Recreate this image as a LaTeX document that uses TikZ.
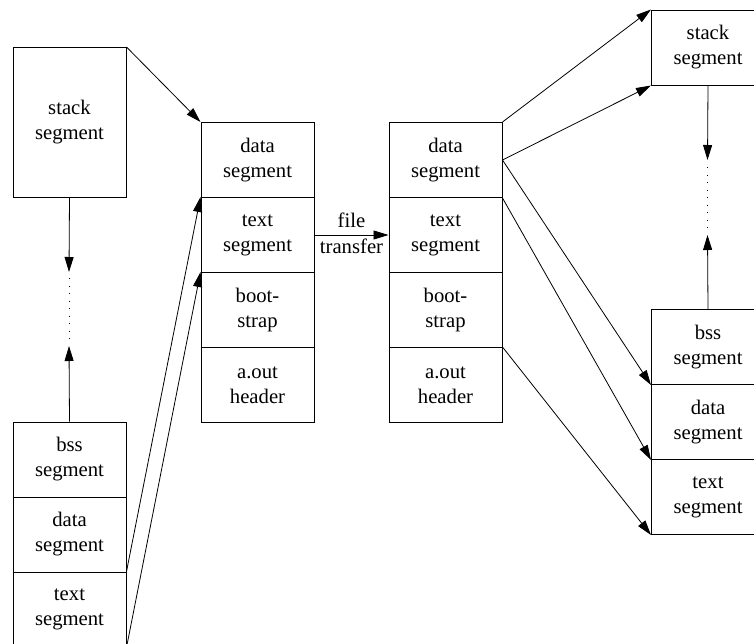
\documentclass[tikz,border=0pt]{standalone}
\usepackage{fontspec}
\setmainfont{Liberation Serif}
\usetikzlibrary{arrows.meta}
\begin{document}
\begin{tikzpicture}[x=1pt,y=-1pt,
  seg/.style={draw,line width=1pt,minimum width=113pt,minimum height=75pt,inner sep=0pt,align=center,font=\fontsize{20.7}{25}\selectfont,anchor=north west},
  lbl/.style={inner sep=0pt,anchor=base,font=\fontsize{20.7}{25}\selectfont},
  arr/.style={line width=0.8pt,-{Triangle[length=15pt,width=9pt]}},
  dots/.style={line width=1pt,dash pattern=on 1pt off 6.5pt}]
\useasboundingbox (0,0) rectangle (754,643);
\begin{scope}
\clip (0,0) rectangle (754,643);
% left column
\node[seg,minimum height=150pt] (lstack) at (12.5,47) {stack\\segment};
\node[seg] (lb) at (12.5,421.5) {bss\\segment};
\node[seg] (ld) at (12.5,496.5) {data\\segment};
\node[seg] (lt) at (12.5,571.5) {text\\segment};
% middle 1
\node[seg] (m1d) at (200.5,122) {data\\segment};
\node[seg] (m1t) at (200.5,197) {text\\segment};
\node[seg] (m1b) at (200.5,272) {boot-\\strap};
\node[seg] (m1h) at (200.5,347) {a.out\\header};
% middle 2
\node[seg] (m2d) at (388.5,122) {data\\segment};
\node[seg] (m2t) at (388.5,197) {text\\segment};
\node[seg] (m2b) at (388.5,272) {boot-\\strap};
\node[seg] (m2h) at (388.5,347) {a.out\\header};
% right column
\node[seg] (rs) at (651,9.5) {stack\\segment};
\node[seg] (rb) at (651,309) {bss\\segment};
\node[seg] (rd) at (651,384) {data\\segment};
\node[seg] (rt) at (651,459) {text\\segment};
% coordinates for growth arrows
\coordinate (ldn) at (69,272);
\coordinate (ld1) at (69,278);
\coordinate (ld2) at (69,341);
\coordinate (lup) at (69,346);
\coordinate (rdn) at (707.5,160);
\coordinate (rd1) at (707.5,167);
\coordinate (rd2) at (707.5,229);
\coordinate (rup) at (707.5,235);
% connectors
\draw[arr] (lstack.north east) -- (m1d.north west);
\draw[arr] (lt.north east) -- (m1t.north west);
\draw[arr] (lt.south east) -- (m1b.north west);
\draw[arr] (m1t.east) -- (m2t.west)
  node[midway,lbl,yshift=8pt]{file}
  node[midway,lbl,yshift=-18pt]{transfer};
\draw[arr] (m2d.north east) -- (rs.north west);
\draw[arr] (m2d.east) -- (rs.south west);
\draw[arr] (m2d.east) -- (rb.south west);
\draw[arr] (m2d.south east) -- (rd.south west);
\draw[arr] (m2h.north east) -- (rt.south west);
\draw[arr] (lstack.south) -- (ldn);
\draw[dots] (ld1) -- (ld2);
\draw[arr] (lb.north) -- (lup);
\draw[arr] (rs.south) -- (rdn);
\draw[dots] (rd1) -- (rd2);
\draw[arr] (rb.north) -- (rup);
\end{scope}
\end{tikzpicture}
\end{document}
